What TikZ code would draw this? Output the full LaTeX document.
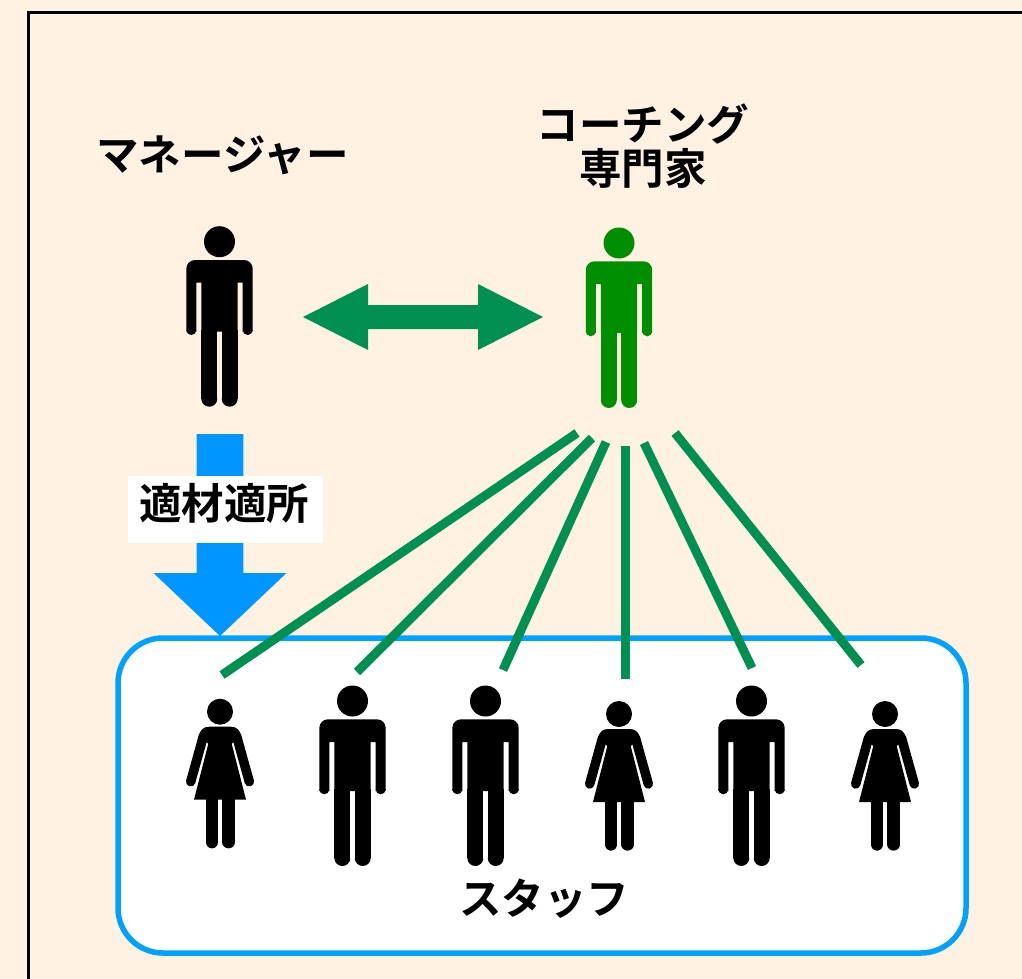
\documentclass[tikz,border=0pt]{standalone}
\usepackage{fontspec}
\newfontfamily\cjk{Noto Sans CJK JP}[BoldFont={Noto Sans CJK JP Bold}]
\definecolor{bgc}{HTML}{FFF2E2}
\definecolor{linkgreen}{HTML}{009051}
\definecolor{coachgreen}{HTML}{008F00}
\definecolor{arrowblue}{HTML}{0096FF}
\definecolor{boxblue}{HTML}{00A2FF}
\tikzset{
  man/.pic={
    \fill[pic actions] (0,0) circle (15.5);
    \fill[pic actions] (-33.2,90) -- (-33.2,27) arc (180:270:8.7) -- (24.5,18.3) arc (270:360:8.7) -- (33.2,90) -- (23.2,90) -- (23.2,41) -- (18.2,41) -- (18.2,90) -- (-18.2,90) -- (-18.2,41) -- (-23.2,41) -- (-23.2,90) -- cycle;
    \fill[pic actions] (-33.2,88.3) arc (180:360:5 and -5) -- cycle;
    \fill[pic actions] (23.2,88.3) arc (180:360:5 and -5) -- cycle;
    \fill[pic actions] (-18.2,88) rectangle (-2.2,157);
    \fill[pic actions] (2.2,88) rectangle (18.2,157);
    \fill[pic actions] (-18.2,157) arc (180:360:8 and -8) -- cycle;
    \fill[pic actions] (2.2,157) arc (180:360:8 and -8) -- cycle;
  },
  woman/.pic={
    \fill[pic actions] (0,0) circle (13);
    \fill[pic actions] (-11,15) .. controls (-17,15) and (-20,19) .. (-21,24) -- (-11.7,32) -- (-26,88) -- (26,88) -- (11.7,32) -- (21,24) .. controls (20,19) and (17,15) .. (11,15) -- cycle;
    \draw[pic actions, line width=9.5pt, line cap=round] (-16.5,24) -- (-29.3,70);
    \draw[pic actions, line width=9.5pt, line cap=round] (16.5,24) -- (29.3,70);
    \draw[pic actions, line width=12.7pt, line cap=round] (-8,84) -- (-8,130.3);
    \draw[pic actions, line width=12.7pt, line cap=round] (8.7,84) -- (8.7,130.3);
  },
  labeltext/.style={font=\cjk\bfseries\fontsize{42.5}{46}\selectfont, inner sep=0pt, text=black, align=center},
  linkline/.style={draw=linkgreen, line width=9pt},
}
\begin{document}
\begin{tikzpicture}[x=1pt,y=-1pt]
\useasboundingbox (0,0) rectangle (1022,979);
\fill[bgc] (0,0) rectangle (1022,979);
\clip (0,0) rectangle (1022,979);
\draw[black, line width=2.5pt, fill=bgc] (28.5,12.5) rectangle (1040,1000);

% staff box
\node[draw=boxblue, fill=white, line width=5.5pt, rounded corners=45pt, minimum width=848pt, minimum height=315pt, inner sep=0pt] (staffbox) at (542,795.5) {};

% blue arrow
\fill[arrowblue] (196.7,434) -- (243.3,434) -- (243.3,573) -- (286.5,573) -- (220,636) -- (153.5,573) -- (196.7,573) -- cycle;
\node[fill=white, minimum width=195pt, minimum height=67pt, inner sep=0pt] (placebox) at (225.5,509.5) {};
\node[labeltext] (placelabel) at (224,503) {適材適所};

% double arrow
\fill[linkgreen] (303,317) -- (368,284) -- (368,305) -- (478,305) -- (478,284) -- (543,317) -- (478,350) -- (478,329) -- (368,329) -- (368,350) -- cycle;

% people
\pic[black] at (219.5,241.7) {man};
\pic[coachgreen] at (619,243) {man};
\pic[black] at (220,711.7) {woman};
\pic[black] at (352.5,701) {man};
\pic[black] at (485.5,701) {man};
\pic[black] at (619,714) {woman};
\pic[black] at (751.5,701) {man};
\pic[black] at (885,714) {woman};

% links
\coordinate (c1) at (577,433); \coordinate (s1) at (222,675);
\coordinate (c2) at (592,438); \coordinate (s2) at (357,672);
\coordinate (c3) at (606,442); \coordinate (s3) at (503,670);
\coordinate (c4) at (625,446); \coordinate (s4) at (625,679);
\coordinate (c5) at (644,443); \coordinate (s5) at (752,668);
\coordinate (c6) at (675,433); \coordinate (s6) at (861,665);
\draw[linkline] (c1) -- (s1);
\draw[linkline] (c2) -- (s2);
\draw[linkline] (c3) -- (s3);
\draw[linkline] (c4) -- (s4);
\draw[linkline] (c5) -- (s5);
\draw[linkline] (c6) -- (s6);

% labels
\node[labeltext] (mgr) at (222.5,155) {マネージャー};
\node[labeltext] (coach1) at (643,124) {コーチング};
\node[labeltext] (coach2) at (643,168) {専門家};
\node[labeltext] (staff) at (544,899) {スタッフ};
\end{tikzpicture}
\end{document}
